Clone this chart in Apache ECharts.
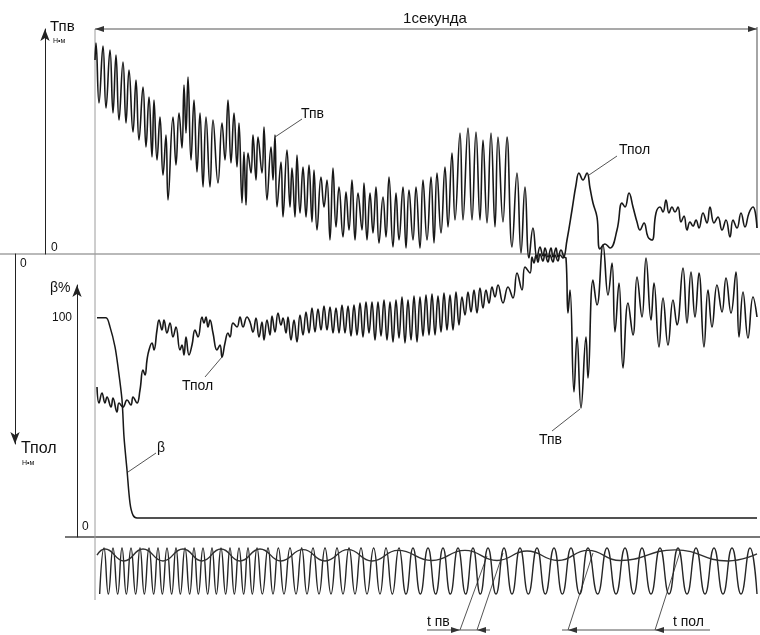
<!DOCTYPE html>
<html>
<head>
<meta charset="utf-8">
<script src="https://cdn.jsdelivr.net/npm/echarts@6/dist/echarts.min.js"></script>
<style>
  html, body { margin: 0; padding: 0; background: #fff; }
  #chart { width: 760px; height: 635px; }
</style>
</head>
<body>
<div id="chart"></div>
<script>
const FONT = '"Liberation Sans", Arial, sans-serif';
const INK = '#181818';

// time in ms, torque in arbitrary units (0 on the shared base line)
const tpvPts = [
  [0,97],[1.5,105.5],[6,75.5],[12,104],[16.5,73],[22.5,102],[27,70.5],[31.5,99.5],[36,67],[42,96],
  [46.5,65.5],[51,92],[57,61],[61.5,87],[66,57],[72,83.5],[76.5,53.5],[81,78.5],[85.5,48.5],[88.5,77],
  [93,47],[97.5,68.5],[102,39.5],[106.5,59.5],[109.5,27],[117,68.5],[121.5,44.5],[126,70.5],[130.5,53],[133.5,84.5],
  [136.5,60.5],[139.5,88.5],[144,47],[148.5,77],[153,41],[157.5,70.5],[162,33.5],[166.5,68.5],[172.5,33.5],[177,67],
  [184.5,35.5],[190.5,65.5],[195,47],[199.5,77],[204,45.5],[208.5,70.5],[213,43.5],[216,65.5],[220.5,25.5],[223.5,51],
  [226.5,24.5],[229.5,50.5],[234,40.5],[237,59.5],[241.5,37],[244.5,58.5],[250.5,40.5],[253.5,63.5],[258,27],[264,53.5],
  [267,37],[270,59.5],[273,23.5],[279,46],[282,18.5],[288,52],[292.5,23.5],[295.5,43],[300,18.5],[303,49.5],
  [307.5,20.5],[312,43.5],[316.5,18.5],[321,44.5],[325.5,16],[328.5,42],[333,12],[339,38.5],[343.5,23.5],[348,37],
  [352.5,7],[357,43],[361.5,13.5],[366,33.5],[372,8.5],[376.5,31],[381,12],[385.5,37],[390,7],[394.5,30.5],
  [400.5,12],[403.5,35.5],[408,7],[412.5,30.5],[417,10.5],[421.5,33.5],[426,5.5],[432,28.5],[436.5,8.5],[441,38.5],
  [447,3.5],[451.5,30.5],[456,7],[462,33.5],[466.5,3],[471,32],[477,7],[481.5,33.5],[487.5,3],[492,37],
  [498,7],[504,38.5],[508.5,5.5],[513,40.5],[519,10.5],[525,43.5],[529.5,13.5],[535.5,50.5],[540,17],[547.5,60.5],
  [552,17],[559.5,63],[565.5,17],[571.5,61],[577.5,17],[582,57],[588,15.5],[594,60.5],[600,13.5],[604.5,58.5],
  [612,16],[618,58.5],[625.5,3.5],[633,40.5],[639,0.5],[645,33.5],[651,-2],[657,13],[663,-2],[667.5,3.5],
  [672,-1],[675,3],[679.5,-1.5],[684,3],[687,-1.5],[691.5,3],[694.5,-1.5],[699,2],[703.5,-1.5],[706.5,-2],
  [709.5,-29.5],[712.5,-18],[718.5,-69],[723,-41.5],[729,-77],[736.5,-41.5],[739.5,-62],[747,-13],[753,-25.5],[762,4.5],
  [769.5,-20.5],[775.5,-4.5],[780,-39],[786,-14.5],[792,-57],[799.5,-24.5],[807,-40.5],[813,-11.5],[820.5,-31.5],[826.5,-2],
  [834,-33],[838.5,-14.5],[846,-46.5],[852,-22],[859.5,-45.5],[867,-23],[873,-35.5],[882,-7],[888,-34.5],[894,-9],
  [900,-31.5],[906,-9.5],[913.5,-46.5],[919.5,-18],[925.5,-36.5],[933,-15.5],[940.5,-29],[946.5,-12],[954,-29.5],[961.5,-9],
  [966,-41.5],[972,-19],[979.5,-42],[987,-21.5],[993,-31.5]
];

// Tпол is drawn downward from the base line
const tpolPts = [
  [3,66.5],[6,74.5],[10.5,69.5],[15,74.5],[18,71.5],[24,76.5],[27,72],[33,79],[36,74.5],[42,76.5],
  [48,73],[54,75.5],[57,71.5],[63,74.5],[67.5,68],[72,58],[75,60.5],[78,53],[81,48],[85.5,44.5],
  [88.5,48],[93,38],[96,33],[100.5,38],[103.5,33],[108,39.5],[112.5,34.5],[117,41.5],[121.5,36.5],[127.5,48],
  [130.5,45.5],[133.5,50.5],[136.5,41.5],[141,50.5],[145.5,45.5],[150,38],[154.5,41.5],[160.5,31.5],[163.5,34.5],[166.5,31.5],
  [169.5,36.5],[172.5,33],[177,39.5],[183,48],[187.5,45.5],[190.5,51.5],[195,44.5],[199.5,39.5],[202.5,41.5],[207,34.5],
  [213,36.5],[217.5,31.5],[222,36.5],[228,31.5],[232.5,34],[237,39],
  [241.5,32],[246,41.5],[250.5,34],[253.5,43],[258,33],[262.5,40.5],[265.5,31],[270,39],[274.5,29.5],[279,35.5],
  [282,32],[286.5,39.5],[289.5,31.5],[294,43],[298.5,33],[303,44],[307.5,30.5],[312,40.5],[316.5,29],[321,39.5],
  [325.5,27],[330,39],[334.5,27.5],[339,38],[343.5,26],[348,38],[352.5,26.5],[357,39.5],[361.5,27],[366,39.5],
  [370.5,25.5],[375,39.5],[379.5,26],[384,41],[388.5,25.5],[393,40.5],[397.5,24.5],[402,41.5],[406.5,24],[411,39.5],
  [415.5,24],[420,43],[424.5,24],[429,41],[433.5,23],[438,43],[442.5,24],[447,44],[451.5,23],[456,42],
  [460.5,21.5],[465,44.5],[469.5,23],[474,43],[478.5,21],[483,44],[487.5,21.5],[492,41],[496.5,20.5],[501,40.5],
  [505.5,20],[510,40.5],[514.5,21],[519,39],[523.5,19.5],[528,38],[532.5,20.5],[537,38],[541.5,19],[546,35.5],
  [550.5,21.5],[555,30.5],[559.5,19],[564,29],[568.5,18],[573,29.5],[577.5,17],[582,27],[586.5,18],[591,24.5],
  [595.5,16.5],[600,21.5],[604.5,15.5],
  [612,24.5],[619.5,16.5],[627,22],[633,9.5],[640.5,18],[645,6.5],[652.5,9.5],[655.5,1.5],[658.5,4.5],[661.5,0.5],
  [664.5,4],[667.5,0],[672,3.5],[675,0],[679.5,4],[682.5,0.5],[687,4],[690,0.5],[694.5,3.5],[697.5,0.5],
  [702,2],[708,-7],[715.5,-22],[721.5,-34.5],[726,-40.5],[732,-37],[738,-40.5],[742.5,-33],[747,-25.5],[753,-18.5],
  [757.5,-2.5],[765,-5],[772.5,-3],[783,-12],[790.5,-25.5],[795,-23.5],[801,-30.5],[807,-23.5],[813,-16],[817.5,-12],
  [823.5,-15.5],[829.5,-8.5],[835.5,-7],[841.5,-20.5],[847.5,-23.5],[852,-21],[856.5,-27],[861,-20.5],[865.5,-23.5],[870,-21],
  [874.5,-23.5],[879,-16],[883.5,-19],[888,-12],[892.5,-16],[897,-14],[901.5,-17],[906,-13],[912,-20.5],[918,-15.5],
  [922.5,-23.5],[928.5,-15.5],[934.5,-18.5],[940.5,-12],[946.5,-17],[952.5,-8.5],[957,-17],[963,-13],[969,-20.5],[975,-13.5],
  [981,-20.5],[987,-23.5],[993,-13]
];

// β, %
const betaPts = [
  [3,100],[16.5,100],[22.5,95.9],[30,86.8],[34.5,77.6],[40.5,62.6],[43.5,45.7],[48,30.6],[52.5,15.5],[57,10],
  [63,8.7],[993,8.7]
];

// the two waves at the bottom: crests and troughs of the fast one, extremes of the slow one
const fastPeaks = [
  13.5,27,40.5,54,67.5,81,94.5,108,121.5,135,148.5,162,175.5,189,202.5,216,229.5,243,259.5,275,
  292.5,310,327,345,363,381,399,418,436.5,456,477,499.5,522,544.5,567,589.5,613.5,637.5,663,688.5,
  714,739.5,768,795,820.5,847.5,874.5,901.5,928.5,955.5,982.5
];
const fastTroughs = [
  7,20,34,47,61,74,88,101,115,128,142,155,169,182,196,209,223,236,251,267,
  283.5,301.5,318,336,354,372,390,408,427.5,446,466.5,488,511,533,556,578,601.5,625.5,650,675.5,
  701,727,754,781.5,808,834,861,888,915,942,969,993
];
const fastHigh = 1;
const fastLow = -0.96;
const slowPts = [
  [3,0.7],[15,0.96],[43.5,0.45],[72,0.96],[102,0.45],[132,0.96],[160.5,0.45],[189,0.96],[217.5,0.45],[247.5,0.96],
  [279,0.45],[312,0.93],[345,0.45],[379.5,0.93],[415.5,0.45],[454.5,0.9],[505.5,0.47],[555,0.9],[603,0.47],[648,0.87],
  [694.5,0.47],[739.5,0.9],[787.5,0.47],[870,0.92],[949.5,0.45],[993,0.75]
];

const fastPts = fastPeaks.map(t => [t, fastHigh])
  .concat(fastTroughs.map(t => [t, fastLow]))
  .sort((a, b) => a[0] - b[0]);

const T_MAX = 997.5;

function trace(name, data, xi, yi, extra) {
  return Object.assign({
    name, type: 'line', data, xAxisIndex: xi, yAxisIndex: yi,
    smooth: 0.45, showSymbol: false, clip: false, animation: false,
    lineStyle: { color: INK, width: 1.6 }
  }, extra || {});
}

// drawing aids: frame lines, arrows, captions
function seg(x1, y1, x2, y2, color, w) {
  return { type: 'line', silent: true, shape: { x1, y1, x2, y2 },
    style: { stroke: color || '#444', lineWidth: w || 1 } };
}
function head(x, y, dir) {
  const d = dir === 'left' ? 1 : -1;
  return { type: 'polygon', silent: true,
    shape: { points: [[x, y], [x + 9 * d, y - 3], [x + 9 * d, y + 3]] },
    style: { fill: '#333' } };
}
function txt(text, x, y, size, align) {
  return { type: 'text', silent: true, x, y,
    style: { text, font: `${size}px ${FONT}`, fill: '#111',
      align: align || 'left', verticalAlign: 'middle' } };
}

const graphics = [
  seg(0, 254, 760, 254, '#a2a2a2', 1.5),
  seg(65, 537, 760, 537, '#4a4a4a', 1.5),
  seg(95, 29, 95, 600, '#9c9c9c', 1),
  seg(757, 27, 757, 228, '#6a6a6a', 1.2),
  seg(95, 29, 757, 29, '#555', 1.2),
  head(95, 29, 'left'), head(757, 29, 'right'),
  txt('1секунда', 435, 19, 15, 'center'),
  txt('Тпв', 50, 27, 15), txt('Н•м', 53, 41, 7),
  txt('β%', 50, 288, 14),
  txt('Тпол', 21, 449, 16), txt('Н•м', 22, 463, 7),
  // trace captions with leaders
  seg(275, 137, 302, 119, '#555'), txt('Тпв', 301, 114, 14),
  seg(589, 175, 617, 156, '#555'), txt('Тпол', 619, 150, 14),
  seg(205, 377, 222, 357, '#555'), txt('Тпол', 182, 386, 14),
  seg(552, 431, 580, 409, '#555'), txt('Тпв', 539, 440, 14),
  seg(128, 472, 156, 453, '#555'), txt('β', 157, 448, 14),
  // interval marks under the waves
  seg(487, 556, 460, 630, '#555'), seg(503, 553, 477, 630, '#555'),
  seg(427, 630, 490, 630, '#555'), head(460, 630, 'right'), head(477, 630, 'left'),
  txt('t пв', 427, 622, 14),
  seg(593, 553, 568, 630, '#555'), seg(680, 552, 655, 630, '#555'),
  seg(562, 630, 710, 630, '#555'), head(568, 630, 'left'), head(655, 630, 'left'),
  txt('t пол', 673, 622, 14)
];

const arrowLine = { show: true, onZero: false, symbol: ['none', 'arrow'], symbolSize: [7, 12],
  lineStyle: { color: '#222', width: 1 } };
const downArrowLine = Object.assign({}, arrowLine, { symbol: ['arrow', 'none'] });
const tickText = { fontFamily: FONT, fontSize: 12, color: '#111' };

const chart = echarts.init(document.getElementById('chart'), null, { renderer: 'canvas' });
chart.setOption({
  animation: false,
  backgroundColor: '#fff',
  grid: [
    { left: 95, top: 29, width: 665, height: 225 },
    { left: 95, top: 254, width: 665, height: 190 },
    { left: 95, top: 285, width: 665, height: 252 },
    { left: 95, top: 548, width: 665, height: 47 }
  ],
  xAxis: [0, 1, 2, 3].map(i => ({ type: 'value', gridIndex: i, min: 0, max: T_MAX, show: false })),
  yAxis: [
    { type: 'value', gridIndex: 0, position: 'left', min: 0, max: 112.5, interval: 112.5, offset: 50,
      axisLine: arrowLine, axisTick: { show: false }, splitLine: { show: false },
      axisLabel: Object.assign({ inside: true, margin: 6, verticalAlign: 'bottom',
        formatter: v => (v === 0 ? '0' : '') }, tickText) },
    { type: 'value', gridIndex: 1, position: 'left', min: 0, max: 95, interval: 95, inverse: true, offset: 80,
      axisLine: downArrowLine, axisTick: { show: false }, splitLine: { show: false },
      axisLabel: Object.assign({ inside: true, margin: 5, verticalAlign: 'top', padding: [4, 0, 0, 0],
        formatter: v => (v === 0 ? '0' : '') }, tickText) },
    { type: 'value', gridIndex: 2, position: 'left', min: 0, max: 115, interval: 100, offset: 18,
      axisLine: arrowLine, axisTick: { show: false }, splitLine: { show: false },
      axisLabel: Object.assign({ margin: 5, formatter: v => (v === 100 ? '100' : '') }, tickText) },
    { type: 'value', gridIndex: 2, position: 'left', min: 0, max: 115, interval: 100, offset: 18,
      axisLine: { show: false, onZero: false }, axisTick: { show: false }, splitLine: { show: false },
      axisLabel: Object.assign({ inside: true, margin: 5, verticalAlign: 'bottom', padding: [0, 0, 4, 0],
        formatter: v => (v === 0 ? '0' : '') }, tickText) },
    { type: 'value', gridIndex: 3, min: -1, max: 1, show: false }
  ],
  series: [
    trace('Тпв', tpvPts, 0, 0),
    trace('Тпол', tpolPts, 1, 1),
    trace('β', betaPts, 2, 2, { smooth: 0.3, lineStyle: { color: INK, width: 1.5 } }),
    trace('fast', fastPts, 3, 4, { smooth: 0.5, lineStyle: { color: '#262626', width: 1.4 } }),
    trace('slow', slowPts, 3, 4, { smooth: 0.5, lineStyle: { color: '#303030', width: 1.4 } })
  ],
  graphic: graphics
});
</script>
</body>
</html>
